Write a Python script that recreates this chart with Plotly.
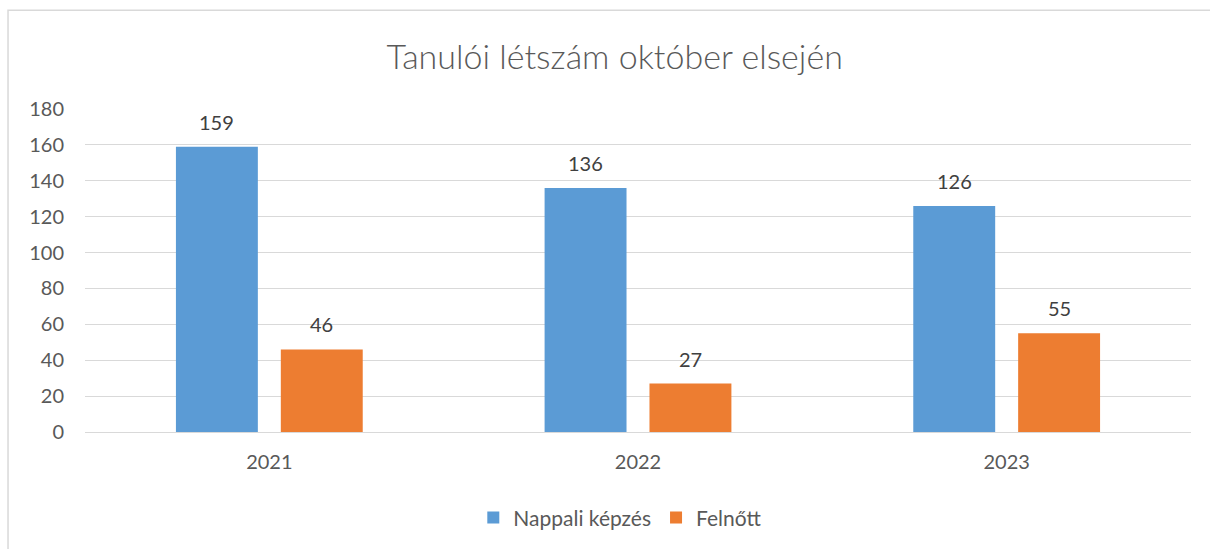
import plotly.graph_objects as go

years = ["2021", "2022", "2023"]
nappali = [159, 136, 126]
felnott = [46, 27, 55]
y_ticks = [0, 20, 40, 60, 80, 100, 120, 140, 160, 180]

BLUE = "#5B9BD5"
ORANGE = "#ED7D31"
FONT = "Lato, 'Open Sans', sans-serif"

fig = go.Figure()
fig.add_trace(go.Bar(name="Nappali képzés", x=years, y=nappali,
                     marker=dict(color=BLUE, line=dict(width=0))))
fig.add_trace(go.Bar(name="Felnőtt", x=years, y=felnott,
                     marker=dict(color=ORANGE, line=dict(width=0))))

# data labels above bars (x given as category index)
for vals, shift in ((nappali, -52.5), (felnott, 52.5)):
    for i, v in enumerate(vals):
        fig.add_annotation(x=i, y=v, text=str(v), showarrow=False,
                           xshift=shift, yshift=25, yanchor="middle",
                           font=dict(family=FONT, size=20, color="#404040"))

# chart border
fig.add_shape(type="rect", xref="paper", yref="paper",
              x0=-0.0696, x1=1.2, y0=-0.6, y1=1.3056,
              line=dict(color="#D9D9D9", width=1.5), fillcolor="rgba(0,0,0,0)",
              layer="below")

fig.update_layout(
    width=1210, height=549,
    margin=dict(l=85, r=19, t=109, b=116),
    paper_bgcolor="white", plot_bgcolor="white",
    barmode="group", bargap=0.431, bargroupgap=0.219,
    title=dict(text="Tanulói létszám október elsején", x=0.508, xanchor="center",
               y=1 - 57 / 549, yanchor="middle", yref="container",
               font=dict(family=FONT, size=34, color="#595959", weight=300)),
    font=dict(family=FONT, color="#595959"),
    xaxis=dict(type="category", range=[-0.5, 2.5], showgrid=False,
               showline=False, ticks="", zeroline=False,
               tickfont=dict(size=20, color="#595959"), ticklabelstandoff=16),
    yaxis=dict(range=[0, 180], tickvals=y_ticks, showgrid=True,
               gridcolor="#D9D9D9", gridwidth=1.2, zeroline=True,
               zerolinecolor="#D9D9D9", zerolinewidth=1.2, showline=False,
               ticks="", tickfont=dict(size=20, color="#595959"),
               ticklabelstandoff=20),
    legend=dict(orientation="h", x=0.484, xanchor="center", y=-0.262,
                yanchor="middle", font=dict(size=21, color="#595959"),
                itemwidth=30, traceorder="normal"),
    showlegend=True,
)

fig.write_html("out.html", config={"displayModeBar": False},
               post_script="document.body.style.margin='0';")
